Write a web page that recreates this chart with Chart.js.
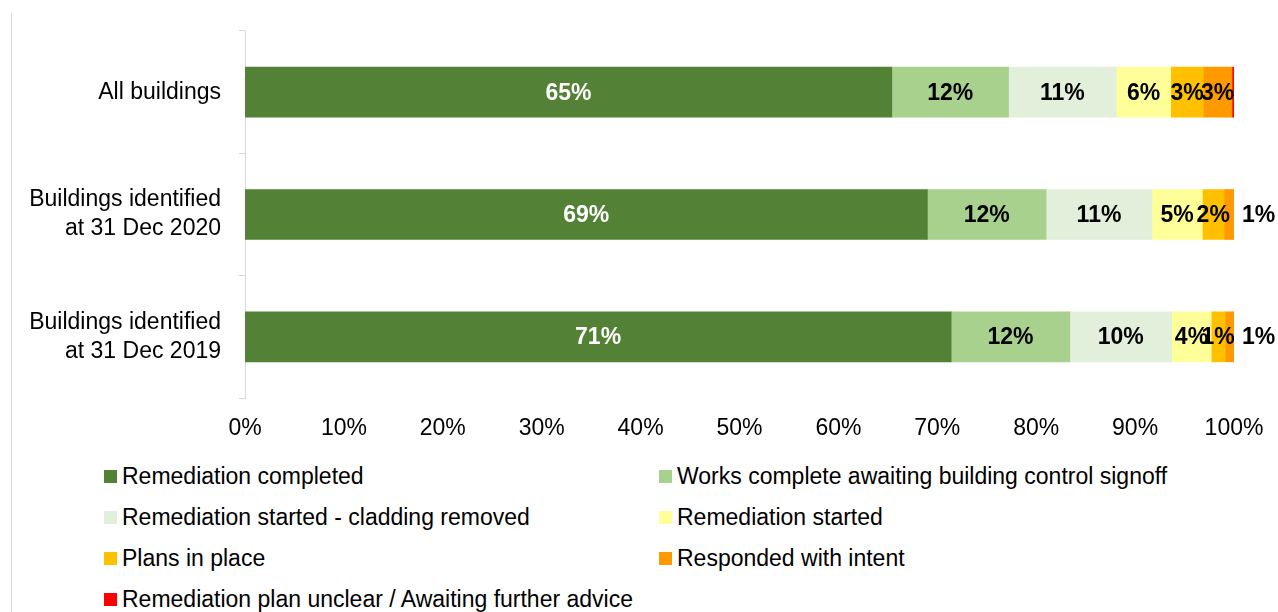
<!DOCTYPE html>
<html>
<head>
<meta charset="utf-8">
<script src="https://cdn.jsdelivr.net/npm/chart.js@4.4.1/dist/chart.umd.min.js"></script>
<style>
    html, body { margin: 0; padding: 0; background: #fff; }
    body { width: 1278px; height: 612px; position: relative; overflow: hidden; font-family: "Liberation Sans", Arial, sans-serif; }
    #frame { position: absolute; left: 11px; top: 13px; width: 0; height: 600px; border-left: 1px solid #d9d9d9; }
    #wrap { position: absolute; left: 0; top: 0; width: 1278px; height: 455px; }
    #legend { position: absolute; left: 104px; top: 462px; display: grid; grid-template-columns: 555px 560px; row-gap: 13px; }
    .item { display: flex; align-items: center; height: 28px; font-size: 23px; color: #000; white-space: nowrap; }
    .sw { width: 13px; height: 13px; margin-right: 5px; flex: none; }
</style>
</head>
<body>
<div id="frame"></div>
<div id="wrap"><canvas id="chart"></canvas></div>
<div id="legend"></div>
<script>
// categories (top to bottom)
const categories = [
    "All buildings",
    ["Buildings identified", "at 31 Dec 2020"],
    ["Buildings identified", "at 31 Dec 2019"],
];

// series names + colours
const seriesNames = [
    "Remediation completed",
    "Works complete awaiting building control signoff",
    "Remediation started - cladding removed",
    "Remediation started",
    "Plans in place",
    "Responded with intent",
    "Remediation plan unclear / Awaiting further advice",
];
const seriesColors = ["#538135", "#a9d18e", "#e2efda", "#ffff99", "#ffc000", "#ff9900", "#ff0000"];

// percentage values per series, one per category
const completed = [65.4, 69.0, 71.4];
const awaitingSignoff = [11.8, 12.0, 12.0];
const claddingRemoved = [10.9, 10.7, 10.3];
const started = [5.5, 5.1, 4.0];
const plansInPlace = [3.3, 2.2, 1.4];
const respondedIntent = [2.9, 1.0, 0.9];
const unclear = [0.2, 0.0, 0.0];

const xTicks = [0, 10, 20, 30, 40, 50, 60, 70, 80, 90, 100];

const seriesValues = [completed, awaitingSignoff, claddingRemoved, started, plansInPlace, respondedIntent, unclear];

const FONT = "'Liberation Sans', Arial, sans-serif";

/* ============ labels drawn on segments ============ */
const segmentLabels = {
    id: "segmentLabels",
    afterDatasetsDraw(chart) {
        const ctx = chart.ctx;
        ctx.save();
        ctx.font = "bold 23px " + FONT;
        ctx.textBaseline = "middle";
        chart.data.datasets.forEach(function (ds, di) {
            const meta = chart.getDatasetMeta(di);
            meta.data.forEach(function (bar, i) {
                const v = Math.round(ds.data[i]);
                if (!v) return;
                const txt = v + "%";
                const left = Math.min(bar.base, bar.x);
                const w = Math.abs(bar.x - bar.base);
                ctx.fillStyle = di === 0 ? "#ffffff" : "#000000";
                if (di === 5 && w < 12) {
                    // tiny last segment: label sits outside the bar
                    ctx.textAlign = "left";
                    ctx.fillText(txt, bar.x + 8, bar.y + 1);
                } else {
                    ctx.textAlign = "center";
                    ctx.fillText(txt, left + w / 2, bar.y + 1);
                }
            });
        });
        ctx.restore();
    },
};

new Chart(document.getElementById("chart").getContext("2d"), {
    type: "bar",
    data: {
        labels: categories,
        datasets: seriesNames.map(function (name, i) {
            return {
                label: name,
                data: seriesValues[i],
                backgroundColor: seriesColors[i],
                borderWidth: 0,
                barThickness: 50,
            };
        }),
    },
    options: {
        indexAxis: "y",
        responsive: true,
        maintainAspectRatio: false,
        animation: false,
        layout: {
            padding: { top: 31, right: 44, left: 0, bottom: 0 },
        },
        plugins: {
            legend: { display: false },
            tooltip: { enabled: false },
        },
        scales: {
            x: {
                stacked: true,
                min: 0,
                max: 100,
                afterBuildTicks: function (scale) {
                    scale.ticks = xTicks.map(function (v) { return { value: v }; });
                },
                grid: { display: false },
                border: { display: false },
                ticks: {
                    color: "#000",
                    font: { family: FONT, size: 23 },
                    padding: 9,
                    maxRotation: 0,
                    callback: function (v) { return v + "%"; },
                },
                afterFit: function (scale) {
                    scale.height = 57;
                },
            },
            y: {
                stacked: true,
                grid: {
                    offset: true,
                    drawOnChartArea: false,
                    drawTicks: true,
                    tickLength: 6,
                    color: "#d9d9d9",
                },
                border: { display: true, color: "#d9d9d9", width: 1 },
                ticks: {
                    color: "#000",
                    font: { family: FONT, size: 23, lineHeight: 1.25 },
                    padding: 18,
                },
                afterFit: function (scale) {
                    scale.width = 245;
                    scale.paddingTop = 0;
                    scale.paddingBottom = 0;
                },
            },
        },
    },
    plugins: [segmentLabels],
});

/* ============ legend (two columns) ============ */
const legend = document.getElementById("legend");
seriesNames.forEach(function (name, i) {
    const item = document.createElement("div");
    item.className = "item";
    const sw = document.createElement("span");
    sw.className = "sw";
    sw.style.background = seriesColors[i];
    item.appendChild(sw);
    item.appendChild(document.createTextNode(name));
    legend.appendChild(item);
});
</script>
</body>
</html>
